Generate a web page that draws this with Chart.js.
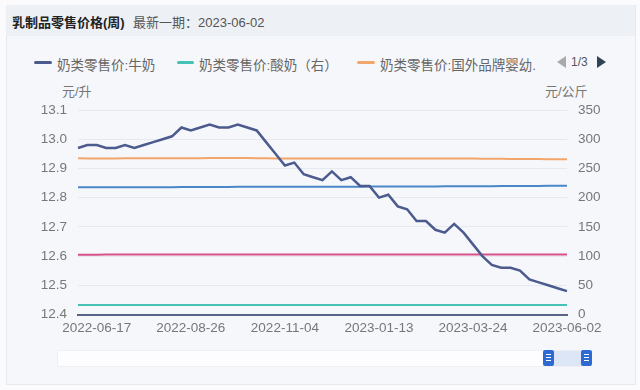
<!DOCTYPE html>
<html>
<head>
<meta charset="utf-8">
<script src="https://cdn.jsdelivr.net/npm/chart.js@4"></script>
<style>
  body { margin: 0; width: 640px; height: 390px; background: #fbfbfd; position: relative; overflow: hidden;
         font-family: "Liberation Sans", "Noto Sans CJK SC", sans-serif; }
  .card { position: absolute; left: 6px; top: 5px; width: 628px; height: 378px; background: #f6f7fb;
          border: 1px solid #e7e9ef; }
  .head { position: absolute; left: 6px; top: 5px; width: 629px; height: 31px; background: #edf0f5; }
  .title { position: absolute; left: 12px; top: 12px; font-size: 13px; font-weight: bold; color: #222; }
  .sub { position: absolute; left: 133px; top: 12px; font-size: 13px; color: #555; }
  .leg { position: absolute; top: 54px; font-size: 13.5px; color: #666; white-space: nowrap; }
  .mk { position: absolute; top: 61px; height: 3px; border-radius: 2px; }
  .unit { position: absolute; top: 81px; font-size: 13px; color: #777; }
  .arrL { position: absolute; left: 557px; top: 56px; width: 0; height: 0; border-top: 6px solid transparent;
          border-bottom: 6px solid transparent; border-right: 9px solid #aaa; }
  .arrR { position: absolute; left: 597px; top: 56px; width: 0; height: 0; border-top: 6px solid transparent;
          border-bottom: 6px solid transparent; border-left: 9px solid #2f4554; }
  .pg { position: absolute; left: 571px; top: 55px; font-size: 12px; color: #555; }
  .track { position: absolute; left: 57px; top: 350px; width: 530px; height: 15px; background: #fdfdff;
           border: 1px solid #eef0f5; }
  .sel { position: absolute; left: 549px; top: 351px; width: 37px; height: 15px; background: #dde6f6; }
  .hd { position: absolute; top: 350px; width: 11px; height: 16px; background: #2d6bd3; border-radius: 2px; }
  .hd i { position: absolute; left: 3px; width: 5px; height: 1px; background: #fff; }
  canvas { position: absolute; left: 0; top: 0; }
</style>
</head>
<body>
<div class="card"></div>
<div class="head"></div>
<div class="title">乳制品零售价格(周)</div>
<div class="sub">最新一期：2023-06-02</div>

<div class="mk" style="left:34px;width:18px;background:#4c5b8e"></div>
<div class="leg" style="left:57px">奶类零售价:牛奶</div>
<div class="mk" style="left:177px;width:17px;background:#45c2b5"></div>
<div class="leg" style="left:199px">奶类零售价:酸奶（右）</div>
<div class="mk" style="left:357px;width:18px;background:#f3a66b"></div>
<div class="leg" style="left:380px">奶类零售价:国外品牌婴幼.</div>
<div class="arrL"></div>
<div class="pg">1/3</div>
<div class="arrR"></div>

<div class="unit" style="left:62px">元/升</div>
<div class="unit" style="left:545px">元/公斤</div>

<canvas id="lineChart" width="640" height="390"></canvas>

<div class="track"></div>
<div class="sel"></div>
<div class="hd" style="left:543px"><i style="top:4px"></i><i style="top:7px"></i><i style="top:10px"></i></div>
<div class="hd" style="left:581px"><i style="top:4px"></i><i style="top:7px"></i><i style="top:10px"></i></div>

<script>
var dates = [
  '2022-06-03','2022-06-10','2022-06-17','2022-06-24','2022-07-01','2022-07-08','2022-07-15','2022-07-22',
  '2022-07-29','2022-08-05','2022-08-12','2022-08-19','2022-08-26','2022-09-02','2022-09-09','2022-09-16',
  '2022-09-23','2022-09-30','2022-10-07','2022-10-14','2022-10-21','2022-10-28','2022-11-04','2022-11-11',
  '2022-11-18','2022-11-25','2022-12-02','2022-12-09','2022-12-16','2022-12-23','2022-12-30','2023-01-06',
  '2023-01-13','2023-01-20','2023-01-27','2023-02-03','2023-02-10','2023-02-17','2023-02-24','2023-03-03',
  '2023-03-10','2023-03-17','2023-03-24','2023-03-31','2023-04-07','2023-04-14','2023-04-21','2023-04-28',
  '2023-05-05','2023-05-12','2023-05-19','2023-05-26','2023-06-02'
];

// 元/升 (left axis)
var milk = [
  12.97, 12.98, 12.98, 12.97, 12.97, 12.98, 12.97, 12.98, 12.99, 13.00,
  13.01, 13.04, 13.03, 13.04, 13.05, 13.04, 13.04, 13.05, 13.04, 13.03,
  12.99, 12.95, 12.91, 12.92, 12.88, 12.87, 12.86, 12.89, 12.86, 12.87,
  12.84, 12.84, 12.80, 12.81, 12.77, 12.76, 12.72, 12.72, 12.69, 12.68,
  12.71, 12.68, 12.64, 12.60, 12.57, 12.56, 12.56, 12.55, 12.52, 12.51,
  12.50, 12.49, 12.48
];

// 元/公斤 (right axis)
var yogurt = [
  16.3, 16.3, 16.3, 16.3, 16.3, 16.3, 16.3, 16.3, 16.3, 16.3,
  16.3, 16.3, 16.3, 16.3, 16.3, 16.3, 16.3, 16.3, 16.3, 16.3,
  16.3, 16.3, 16.3, 16.3, 16.3, 16.3, 16.2, 16.2, 16.2, 16.2,
  16.2, 16.2, 16.2, 16.2, 16.2, 16.2, 16.2, 16.2, 16.2, 16.2,
  16.2, 16.2, 16.2, 16.2, 16.2, 16.2, 16.2, 16.2, 16.2, 16.2,
  16.2, 16.2, 16.2
];
var foreignFormula = [
  267.3, 267.2, 267.1, 267.2, 267.2, 267.3, 267.4, 267.4, 267.5, 267.5,
  267.5, 267.6, 267.6, 267.6, 267.7, 267.7, 267.8, 267.8, 267.7, 267.6,
  267.4, 267.2, 267.0, 267.0, 267.1, 267.1, 267.1, 267.1, 267.2, 267.2,
  267.2, 267.1, 267.1, 267.1, 267.1, 267.1, 267.0, 267.0, 267.0, 267.0,
  266.9, 266.9, 266.8, 266.7, 266.6, 266.4, 266.3, 266.2, 266.1, 266.0,
  265.8, 265.7, 265.6
];
var domesticFormula = [
  217.6, 217.6, 217.6, 217.7, 217.7, 217.8, 217.8, 217.9, 217.9, 218.0,
  218.0, 218.1, 218.2, 218.2, 218.3, 218.3, 218.4, 218.5, 218.5, 218.6,
  218.6, 218.6, 218.5, 218.5, 218.5, 218.6, 218.6, 218.7, 218.7, 218.8,
  218.8, 218.9, 219.0, 219.0, 219.1, 219.1, 219.1, 219.2, 219.2, 219.3,
  219.3, 219.4, 219.5, 219.6, 219.7, 219.8, 219.9, 220.0, 220.0, 220.1,
  220.2, 220.2, 220.3
];
var pinkSeries = [
  102.4, 102.4, 102.4, 102.5, 102.5, 102.5, 102.5, 102.5, 102.6, 102.6,
  102.6, 102.6, 102.7, 102.7, 102.7, 102.7, 102.7, 102.7, 102.6, 102.6,
  102.6, 102.6, 102.6, 102.6, 102.6, 102.6, 102.6, 102.6, 102.6, 102.6,
  102.6, 102.6, 102.6, 102.6, 102.6, 102.6, 102.6, 102.6, 102.6, 102.6,
  102.6, 102.6, 102.6, 102.6, 102.6, 102.6, 102.6, 102.6, 102.6, 102.6,
  102.6, 102.6, 102.6
];

var leftTicks = { min: 12.4, max: 13.1, step: 0.1 };
var rightTicks = { min: 0, max: 350, step: 50 };

var tickFont = { family: '"Liberation Sans", "Noto Sans CJK SC", sans-serif', size: 13.5 };

function lineSet(label, data, color, axis, width) {
  return {
    label: label,
    data: data,
    yAxisID: axis,
    borderColor: color,
    backgroundColor: color,
    borderWidth: width,
    pointRadius: 0,
    tension: 0,
    fill: false
  };
}

var ctx = document.getElementById('lineChart').getContext('2d');
var lineChart = new Chart(ctx, {
  type: 'line',
  data: {
    labels: dates,
    datasets: [
      lineSet('奶类零售价:牛奶', milk, '#4c5b8e', 'yL', 2.5),
      lineSet('奶类零售价:酸奶（右）', yogurt, '#45c2b5', 'yR', 2),
      lineSet('奶类零售价:国外品牌婴幼儿奶粉（右）', foreignFormula, '#f3a66b', 'yR', 2),
      lineSet('奶类零售价:国产品牌婴幼儿奶粉（右）', domesticFormula, '#4a86c8', 'yR', 2),
      lineSet('奶类零售价:其他（右）', pinkSeries, '#d6508a', 'yR', 2)
    ]
  },
  options: {
    responsive: false,
    animation: false,
    layout: { padding: { left: 0, right: 0, top: 110, bottom: 0 } },
    plugins: {
      legend: { display: false },
      tooltip: { enabled: false }
    },
    scales: {
      x: {
        grid: { display: false, drawTicks: false },
        border: { display: true, color: '#5a6285', width: 2 },
        ticks: {
          autoSkip: false,
          maxRotation: 0,
          padding: 6,
          color: '#777',
          font: tickFont,
          callback: function(value, index) {
            return index % 10 === 2 ? this.getLabelForValue(value) : '';
          }
        },
        afterFit: function(scale) { scale.height = 75.5; }
      },
      yL: {
        position: 'left',
        min: leftTicks.min,
        max: leftTicks.max,
        grid: { color: '#e6e9f0', drawTicks: false },
        border: { display: false },
        ticks: {
          stepSize: leftTicks.step,
          padding: 11,
          color: '#777',
          font: tickFont,
          callback: function(v) { return v.toFixed(1); }
        },
        afterFit: function(scale) { scale.width = 78; }
      },
      yR: {
        position: 'right',
        min: rightTicks.min,
        max: rightTicks.max,
        grid: { display: false, drawTicks: false },
        border: { display: false },
        ticks: {
          stepSize: rightTicks.step,
          padding: 11,
          color: '#777',
          font: tickFont
        },
        afterFit: function(scale) { scale.width = 73; }
      }
    }
  }
});
</script>
</body>
</html>
